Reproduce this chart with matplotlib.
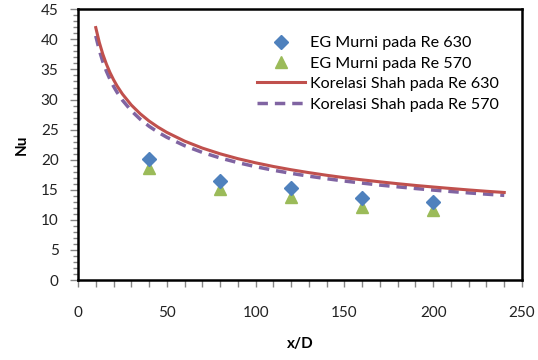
import matplotlib
matplotlib.use("Agg")
import matplotlib.pyplot as plt
from matplotlib.ticker import MultipleLocator

plt.rcParams['font.family'] = ['Lato', 'DejaVu Sans']

# Experimental points
x_exp = [40, 80, 120, 160, 200]
nu_exp_630 = [20.1, 16.5, 15.3, 13.7, 12.9]
nu_exp_570 = [18.6, 15.2, 13.8, 12.2, 11.7]

# Shah correlation curves
x_shah = [10, 12, 14, 16, 18, 20, 22, 25, 30, 35, 40, 45, 50, 60, 70, 80, 90,
          100, 110, 120, 130, 140, 150, 160, 170, 180, 190, 200, 210, 220,
          230, 240]
nu_shah_630 = [41.96, 39.49, 37.51, 35.88, 34.49, 33.30, 32.26, 30.92, 29.09,
               27.64, 26.43, 25.42, 24.54, 23.09, 21.93, 20.98, 20.17, 19.48,
               18.87, 18.33, 17.85, 17.41, 17.01, 16.65, 16.32, 16.01, 15.72,
               15.46, 15.21, 14.97, 14.75, 14.55]
nu_shah_570 = [40.58, 38.19, 36.28, 34.70, 33.36, 32.21, 31.20, 29.90, 28.14,
               26.73, 25.56, 24.58, 23.73, 22.33, 21.21, 20.29, 19.51, 18.84,
               18.25, 17.73, 17.26, 16.84, 16.45, 16.11, 15.78, 15.49, 15.21,
               14.95, 14.71, 14.48, 14.27, 14.07]

labels = ["EG Murni pada Re 630", "EG Murni pada Re 570",
          "Korelasi Shah pada Re 630", "Korelasi Shah pada Re 570"]

fig = plt.figure(figsize=(5.38, 3.6), dpi=100)
ax = fig.add_axes([78/538, 1-280/360, 444/538, 270.7/360])

ax.plot(x_exp, nu_exp_630, linestyle='none', marker='D', markersize=7.5,
        color='#4f81bd', label=labels[0], zorder=4)
ax.plot(x_exp, nu_exp_570, linestyle='none', marker='^', markersize=9,
        color='#9bbb59', label=labels[1], zorder=3)
ax.plot(x_shah, nu_shah_630, color='#c0504d', linewidth=2.2, label=labels[2], zorder=2)
ax.plot(x_shah, nu_shah_570, color='#8064a2', linewidth=2.5, linestyle=(0, (3.0, 2.0)),
        label=labels[3], zorder=1)

ax.set_xlim(0, 250)
ax.set_ylim(0, 45)
ax.xaxis.set_major_locator(MultipleLocator(50))
ax.xaxis.set_minor_locator(MultipleLocator(10))
ax.yaxis.set_major_locator(MultipleLocator(5))
ax.yaxis.set_minor_locator(MultipleLocator(1))

ax.tick_params(axis='x', which='both', direction='out', length=5, width=1,
               color='#868686', labelsize=11, pad=14, labelcolor='#222222')
ax.tick_params(axis='y', which='major', direction='out', length=6, width=1,
               color='#868686', labelsize=11, pad=8, labelcolor='#222222')
ax.tick_params(axis='y', which='minor', direction='out', length=3.5, width=1,
               color='#868686')

for s in ax.spines.values():
    s.set_color('black')
    s.set_linewidth(1.8)

ax.set_xlabel('x/D', fontsize=11, fontweight='bold', labelpad=12)
ax.set_ylabel('Nu', fontsize=11, fontweight='bold', labelpad=9)

ax.legend(loc='upper right', bbox_to_anchor=(0.962, 0.925), frameon=False,
          fontsize=11.6, handlelength=3.0, handletextpad=0.3, labelspacing=0.38,
          borderaxespad=0.0)

fig.savefig('out.png', dpi=100)
